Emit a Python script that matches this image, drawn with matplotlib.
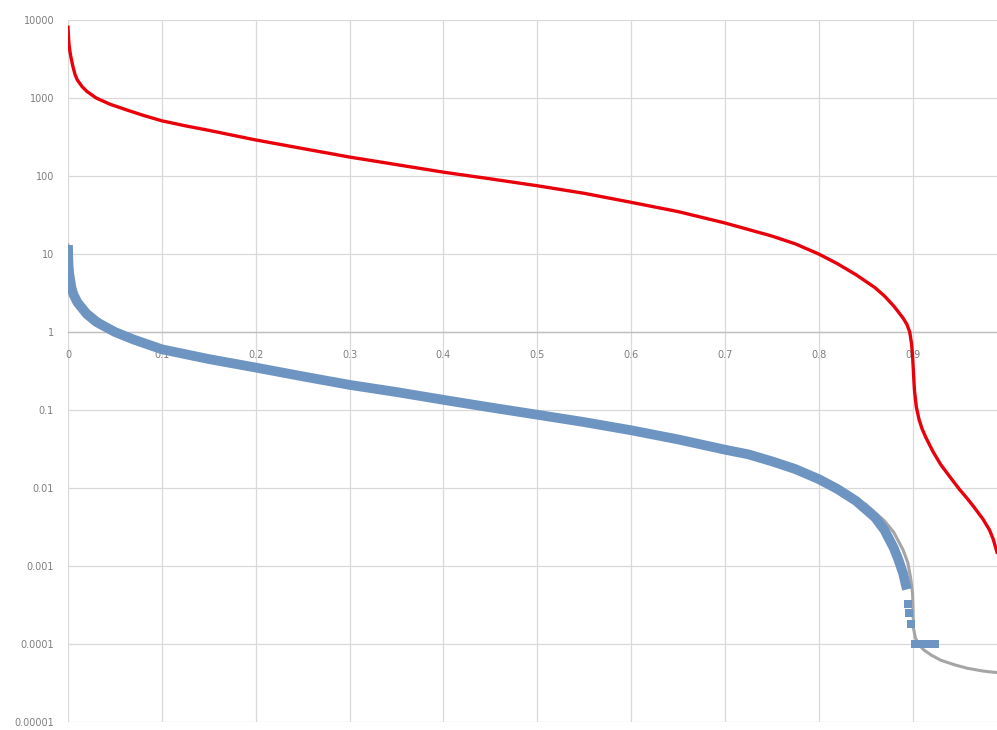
import numpy as np
import matplotlib as mpl
import matplotlib.pyplot as plt
from matplotlib import ticker

mpl.rcParams.update({
    "font.family": "DejaVu Sans",
    "font.size": 7,
})

# red series
red_x = [0, 0.0005, 0.001, 0.002, 0.003, 0.005, 0.0075, 0.01, 0.015, 0.02,
         0.03, 0.045, 0.063, 0.08, 0.1, 0.125, 0.15, 0.2, 0.25, 0.3, 0.35,
         0.4, 0.45, 0.5, 0.55, 0.6, 0.65, 0.7, 0.75, 0.775, 0.8, 0.82, 0.84,
         0.86, 0.87, 0.88, 0.885, 0.89, 0.894, 0.897, 0.899, 0.9, 0.901,
         0.902, 0.904, 0.907, 0.91, 0.914, 0.918, 0.922, 0.93, 0.94, 0.95,
         0.958, 0.965, 0.975, 0.982, 0.986, 0.99]
red_y = [8100, 6200, 5000, 4000, 3400, 2600, 2000, 1700, 1400, 1220,
         1000, 830, 700, 600, 510, 440, 385, 290, 225, 175, 140,
         112, 92, 75, 60, 46, 35, 25, 17, 13.5, 10, 7.5, 5.4,
         3.7, 2.9, 2.15, 1.8, 1.5, 1.25, 1.0, 0.7, 0.5, 0.3,
         0.18, 0.11, 0.075, 0.058, 0.045, 0.036, 0.029, 0.02, 0.0138, 0.0096,
         0.0074, 0.0058, 0.004, 0.0029, 0.0022, 0.0015]

# blue scatter (dense part)
blue_x = [0, 0.0003, 0.0007, 0.0015, 0.003, 0.006, 0.01, 0.02, 0.03, 0.05,
          0.07, 0.1, 0.15, 0.2, 0.25, 0.3, 0.35, 0.4, 0.45, 0.5, 0.55, 0.6,
          0.65, 0.7, 0.725, 0.75, 0.775, 0.8, 0.82, 0.84, 0.86, 0.87, 0.88,
          0.885, 0.89, 0.894]
blue_y = [13, 9, 6.5, 5, 3.8, 3.0, 2.4, 1.7, 1.35, 1.0,
          0.8, 0.6, 0.45, 0.35, 0.27, 0.21, 0.17, 0.135, 0.108, 0.087, 0.07, 0.055,
          0.042, 0.031, 0.027, 0.022, 0.0175, 0.013, 0.0097, 0.0068, 0.0042, 0.0029, 0.0017,
          0.0012, 0.0008, 0.0005]

# blue scatter (sparse tail)
tail_x = [0.895, 0.896, 0.898, 0.903, 0.906, 0.909, 0.912, 0.915, 0.918, 0.921, 0.924]
tail_y = [0.00033, 0.00025, 0.00018, 0.0001, 0.0001, 0.0001, 0.0001, 0.0001, 0.0001, 0.0001, 0.0001]

# gray line
gray_x = [0, 0.01, 0.05, 0.1, 0.2, 0.3, 0.4, 0.5, 0.6, 0.7, 0.8, 0.85, 0.87,
          0.88, 0.89, 0.895, 0.898, 0.9, 0.9005, 0.901, 0.903, 0.907, 0.912,
          0.92, 0.93, 0.945, 0.958, 0.975, 0.99]
gray_y = [13, 2.4, 1.0, 0.6, 0.35, 0.21, 0.135, 0.087, 0.055, 0.031, 0.0135, 0.0062, 0.0038,
          0.0027, 0.0016, 0.0011, 0.0007, 0.00045, 0.0003, 0.00016, 0.00012, 0.000097, 0.000084,
          0.000072, 0.000062, 0.000054, 0.000049, 0.000045, 0.000043]

x_ticks = [0, 0.1, 0.2, 0.3, 0.4, 0.5, 0.6, 0.7, 0.8, 0.9]
x_labels = ["0", "0.1", "0.2", "0.3", "0.4", "0.5", "0.6", "0.7", "0.8", "0.9"]
y_ticks = [1e4, 1e3, 1e2, 1e1, 1, 0.1, 0.01, 0.001, 0.0001, 0.00001]
y_labels = ["10000", "1000", "100", "10", "1", "0.1", "0.01", "0.001", "0.0001", "0.00001"]

figure = plt.figure(figsize=(9.97, 7.30), dpi=100)
axes = figure.add_axes([68 / 997, 8 / 730, 929 / 997, 702 / 730])
axes.set_yscale("log")
axes.set_xlim(0, 0.99)
axes.set_ylim(1e-5, 1e4)

grid_color = "#d9d9d9"
for yv in y_ticks:
    axes.axhline(yv, color=grid_color, lw=0.9, zorder=0)
for xv in x_ticks:
    axes.axvline(xv, color=grid_color, lw=0.9, zorder=0)

axes.plot(gray_x, gray_y, color="#a5a5a5", lw=2.2, zorder=2)
axes.plot(blue_x, blue_y, color="#6e94c2", lw=7, solid_capstyle="butt",
          solid_joinstyle="round", zorder=3)
axes.plot(tail_x, tail_y, ls="none", marker="s", ms=5.5, color="#6e94c2",
          markeredgewidth=0, zorder=3)
axes.plot(red_x, red_y, color="#e8000b", lw=2.4, zorder=4)

for side in ["top", "right", "left"]:
    axes.spines[side].set_visible(False)
axes.spines["bottom"].set_position(("data", 1))
axes.spines["bottom"].set_color("#bfbfbf")
axes.spines["bottom"].set_linewidth(1.0)

axes.set_xticks(x_ticks)
axes.set_xticklabels(x_labels)
axes.set_yticks(y_ticks)
axes.set_yticklabels(y_labels)
axes.yaxis.set_minor_locator(ticker.NullLocator())
axes.tick_params(axis="both", length=0, colors="#7f7f7f", labelsize=7)
axes.tick_params(axis="x", pad=13)
axes.tick_params(axis="y", pad=10)

plt.savefig("out.png", dpi=100)
